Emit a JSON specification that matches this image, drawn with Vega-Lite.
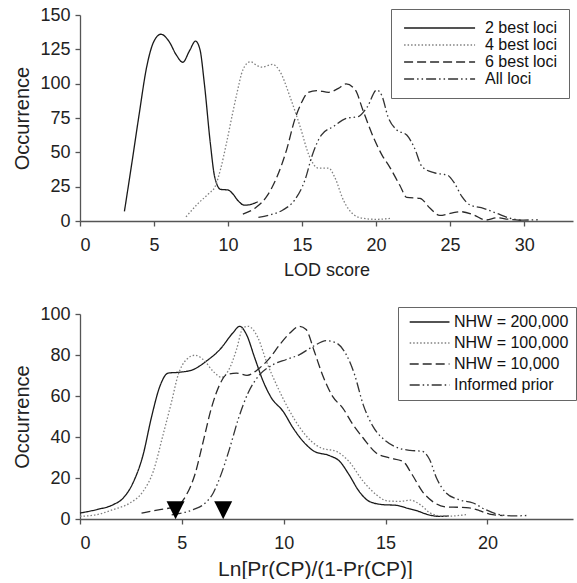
{
  "$schema": "https://vega.github.io/schema/vega-lite/v6.json",
  "background": "white",
  "padding": {"left": 12, "top": 6, "right": 0, "bottom": 0},
  "spacing": 26,
  "config": {
    "view": {"stroke": null},
    "font": "Liberation Sans",
    "axis": {
      "grid": false,
      "domainColor": "#555",
      "domainWidth": 1.3,
      "tickColor": "#555",
      "tickWidth": 1.3,
      "tickSize": 5,
      "labelFont": "Liberation Sans",
      "labelFontSize": 18,
      "labelColor": "#222",
      "labelPadding": 5,
      "titleFont": "Liberation Sans",
      "titleFontSize": 20,
      "titleFontWeight": "normal",
      "titleColor": "#222"
    },
    "axisX": {"labelPadding": 10, "titlePadding": 6},
    "axisY": {"titlePadding": 7},
    "legend": {
      "orient": "none",
      "symbolType": "M-1,0H11",
      "symbolStrokeWidth": 1.3,
      "labelFont": "Liberation Sans",
      "labelFontSize": 16,
      "labelColor": "#111",
      "strokeColor": "#666",
      "strokeWidth": 1
    }
  },
  "datasets": {
    "lod": [
      {"x": 3.0, "y": 7, "s": "2 best loci"}, {"x": 3.5, "y": 42, "s": "2 best loci"}, {"x": 4.0, "y": 78, "s": "2 best loci"},
      {"x": 4.5, "y": 112, "s": "2 best loci"}, {"x": 5.0, "y": 131, "s": "2 best loci"}, {"x": 5.47, "y": 136, "s": "2 best loci"},
      {"x": 6.0, "y": 131, "s": "2 best loci"}, {"x": 6.5, "y": 121, "s": "2 best loci"}, {"x": 6.94, "y": 115.6, "s": "2 best loci"},
      {"x": 7.4, "y": 124, "s": "2 best loci"}, {"x": 7.8, "y": 131, "s": "2 best loci"}, {"x": 8.1, "y": 125, "s": "2 best loci"},
      {"x": 8.4, "y": 100, "s": "2 best loci"}, {"x": 8.8, "y": 57, "s": "2 best loci"}, {"x": 9.1, "y": 32, "s": "2 best loci"},
      {"x": 9.5, "y": 23, "s": "2 best loci"}, {"x": 10.0, "y": 22.6, "s": "2 best loci"}, {"x": 10.3, "y": 20, "s": "2 best loci"},
      {"x": 10.7, "y": 14.5, "s": "2 best loci"}, {"x": 11.1, "y": 11.5, "s": "2 best loci"}, {"x": 11.5, "y": 12, "s": "2 best loci"},
      {"x": 12.0, "y": 14, "s": "2 best loci"},

      {"x": 7.16, "y": 3, "s": "4 best loci"}, {"x": 8.0, "y": 13, "s": "4 best loci"}, {"x": 8.7, "y": 20, "s": "4 best loci"},
      {"x": 9.12, "y": 25, "s": "4 best loci"}, {"x": 9.5, "y": 38, "s": "4 best loci"}, {"x": 9.9, "y": 57, "s": "4 best loci"},
      {"x": 10.3, "y": 78, "s": "4 best loci"}, {"x": 10.6, "y": 93, "s": "4 best loci"}, {"x": 11.0, "y": 110, "s": "4 best loci"},
      {"x": 11.5, "y": 116, "s": "4 best loci"}, {"x": 12.0, "y": 113, "s": "4 best loci"}, {"x": 12.3, "y": 112, "s": "4 best loci"},
      {"x": 13.0, "y": 114, "s": "4 best loci"}, {"x": 13.5, "y": 109, "s": "4 best loci"}, {"x": 14.2, "y": 90, "s": "4 best loci"},
      {"x": 14.86, "y": 69, "s": "4 best loci"}, {"x": 15.5, "y": 47, "s": "4 best loci"}, {"x": 16.1, "y": 38.5, "s": "4 best loci"},
      {"x": 16.8, "y": 38.5, "s": "4 best loci"}, {"x": 17.2, "y": 32, "s": "4 best loci"}, {"x": 17.8, "y": 15, "s": "4 best loci"},
      {"x": 18.5, "y": 4.5, "s": "4 best loci"}, {"x": 19.1, "y": 2, "s": "4 best loci"}, {"x": 20.0, "y": 1.2, "s": "4 best loci"},
      {"x": 21.0, "y": 2, "s": "4 best loci"},

      {"x": 11.0, "y": 5, "s": "6 best loci"}, {"x": 11.9, "y": 10, "s": "6 best loci"}, {"x": 12.6, "y": 17.7, "s": "6 best loci"},
      {"x": 13.3, "y": 32, "s": "6 best loci"}, {"x": 13.96, "y": 52, "s": "6 best loci"}, {"x": 14.5, "y": 73.6, "s": "6 best loci"},
      {"x": 15.0, "y": 87, "s": "6 best loci"}, {"x": 15.4, "y": 93.5, "s": "6 best loci"}, {"x": 16.0, "y": 95, "s": "6 best loci"},
      {"x": 16.8, "y": 93.7, "s": "6 best loci"}, {"x": 17.45, "y": 96.6, "s": "6 best loci"}, {"x": 17.97, "y": 99.8, "s": "6 best loci"},
      {"x": 18.6, "y": 95.4, "s": "6 best loci"}, {"x": 19.1, "y": 81, "s": "6 best loci"}, {"x": 19.8, "y": 61.4, "s": "6 best loci"},
      {"x": 20.4, "y": 48, "s": "6 best loci"}, {"x": 20.9, "y": 39.6, "s": "6 best loci"}, {"x": 21.6, "y": 26, "s": "6 best loci"},
      {"x": 22.07, "y": 17.2, "s": "6 best loci"}, {"x": 22.97, "y": 16.5, "s": "6 best loci"}, {"x": 23.65, "y": 9.2, "s": "6 best loci"},
      {"x": 24.3, "y": 4.1, "s": "6 best loci"}, {"x": 25.0, "y": 5.5, "s": "6 best loci"}, {"x": 25.7, "y": 6.8, "s": "6 best loci"},
      {"x": 26.6, "y": 4.4, "s": "6 best loci"}, {"x": 27.4, "y": 0.7, "s": "6 best loci"}, {"x": 28.2, "y": 2.4, "s": "6 best loci"},
      {"x": 28.9, "y": 1.3, "s": "6 best loci"}, {"x": 29.8, "y": 0.5, "s": "6 best loci"},

      {"x": 12.05, "y": 2.7, "s": "All loci"}, {"x": 12.8, "y": 4.4, "s": "All loci"}, {"x": 13.7, "y": 8, "s": "All loci"},
      {"x": 14.5, "y": 15.3, "s": "All loci"}, {"x": 15.2, "y": 30, "s": "All loci"}, {"x": 15.66, "y": 47, "s": "All loci"},
      {"x": 16.3, "y": 62.6, "s": "All loci"}, {"x": 17.1, "y": 68.7, "s": "All loci"}, {"x": 18.0, "y": 74.8, "s": "All loci"},
      {"x": 18.8, "y": 76, "s": "All loci"}, {"x": 19.4, "y": 83, "s": "All loci"}, {"x": 20.05, "y": 95.4, "s": "All loci"},
      {"x": 20.4, "y": 91, "s": "All loci"}, {"x": 20.8, "y": 76, "s": "All loci"}, {"x": 21.4, "y": 66.3, "s": "All loci"},
      {"x": 22.07, "y": 62.6, "s": "All loci"}, {"x": 22.6, "y": 53, "s": "All loci"}, {"x": 23.1, "y": 39.6, "s": "All loci"},
      {"x": 23.9, "y": 35.2, "s": "All loci"}, {"x": 24.5, "y": 34, "s": "All loci"}, {"x": 24.8, "y": 33.5, "s": "All loci"},
      {"x": 25.3, "y": 27.4, "s": "All loci"}, {"x": 25.8, "y": 17.7, "s": "All loci"}, {"x": 26.35, "y": 11.7, "s": "All loci"},
      {"x": 27.25, "y": 9.2, "s": "All loci"}, {"x": 28.15, "y": 5.6, "s": "All loci"}, {"x": 29.05, "y": 2, "s": "All loci"},
      {"x": 29.95, "y": 0.7, "s": "All loci"}, {"x": 31.1, "y": 1, "s": "All loci"}
    ],
    "odds": [
      {"x": 0, "y": 2.9, "s": "NHW = 200,000"}, {"x": 0.82, "y": 4.6, "s": "NHW = 200,000"}, {"x": 1.63, "y": 7, "s": "NHW = 200,000"},
      {"x": 2.12, "y": 10.2, "s": "NHW = 200,000"}, {"x": 2.6, "y": 17.6, "s": "NHW = 200,000"}, {"x": 3.1, "y": 31.4, "s": "NHW = 200,000"},
      {"x": 3.5, "y": 49.3, "s": "NHW = 200,000"}, {"x": 3.92, "y": 64.7, "s": "NHW = 200,000"}, {"x": 4.33, "y": 71.2, "s": "NHW = 200,000"},
      {"x": 4.9, "y": 71.6, "s": "NHW = 200,000"}, {"x": 5.56, "y": 72.9, "s": "NHW = 200,000"}, {"x": 6.2, "y": 77, "s": "NHW = 200,000"},
      {"x": 6.86, "y": 82.6, "s": "NHW = 200,000"}, {"x": 7.5, "y": 90.7, "s": "NHW = 200,000"}, {"x": 7.84, "y": 94, "s": "NHW = 200,000"},
      {"x": 8.17, "y": 90, "s": "NHW = 200,000"}, {"x": 8.58, "y": 78.5, "s": "NHW = 200,000"}, {"x": 8.99, "y": 67.2, "s": "NHW = 200,000"},
      {"x": 9.4, "y": 59, "s": "NHW = 200,000"}, {"x": 9.97, "y": 52.5, "s": "NHW = 200,000"}, {"x": 10.46, "y": 44.4, "s": "NHW = 200,000"},
      {"x": 10.95, "y": 37.9, "s": "NHW = 200,000"}, {"x": 11.5, "y": 33, "s": "NHW = 200,000"}, {"x": 12.25, "y": 30.9, "s": "NHW = 200,000"},
      {"x": 12.75, "y": 28.1, "s": "NHW = 200,000"}, {"x": 13.2, "y": 21.7, "s": "NHW = 200,000"}, {"x": 13.7, "y": 13.5, "s": "NHW = 200,000"},
      {"x": 14.2, "y": 8.6, "s": "NHW = 200,000"}, {"x": 14.87, "y": 7, "s": "NHW = 200,000"}, {"x": 15.5, "y": 6.7, "s": "NHW = 200,000"},
      {"x": 16.1, "y": 5.2, "s": "NHW = 200,000"}, {"x": 16.6, "y": 3.8, "s": "NHW = 200,000"}, {"x": 17.0, "y": 2.4, "s": "NHW = 200,000"},
      {"x": 17.6, "y": 1.3, "s": "NHW = 200,000"}, {"x": 18.1, "y": 1.5, "s": "NHW = 200,000"},

      {"x": 0, "y": 1.3, "s": "NHW = 100,000"}, {"x": 0.82, "y": 2.1, "s": "NHW = 100,000"}, {"x": 1.63, "y": 4.6, "s": "NHW = 100,000"},
      {"x": 2.45, "y": 7.8, "s": "NHW = 100,000"}, {"x": 3.1, "y": 13.5, "s": "NHW = 100,000"}, {"x": 3.6, "y": 23.3, "s": "NHW = 100,000"},
      {"x": 4.08, "y": 41.2, "s": "NHW = 100,000"}, {"x": 4.5, "y": 57.4, "s": "NHW = 100,000"}, {"x": 4.82, "y": 70.4, "s": "NHW = 100,000"},
      {"x": 5.23, "y": 77.8, "s": "NHW = 100,000"}, {"x": 5.64, "y": 79.9, "s": "NHW = 100,000"}, {"x": 6.05, "y": 77.8, "s": "NHW = 100,000"},
      {"x": 6.54, "y": 72, "s": "NHW = 100,000"}, {"x": 6.95, "y": 69.1, "s": "NHW = 100,000"}, {"x": 7.35, "y": 73.7, "s": "NHW = 100,000"},
      {"x": 7.68, "y": 82.6, "s": "NHW = 100,000"}, {"x": 8.0, "y": 93.2, "s": "NHW = 100,000"}, {"x": 8.25, "y": 94, "s": "NHW = 100,000"},
      {"x": 8.74, "y": 88.3, "s": "NHW = 100,000"}, {"x": 9.15, "y": 76.9, "s": "NHW = 100,000"}, {"x": 9.64, "y": 65.6, "s": "NHW = 100,000"},
      {"x": 10.3, "y": 52.5, "s": "NHW = 100,000"}, {"x": 10.8, "y": 44.4, "s": "NHW = 100,000"}, {"x": 11.36, "y": 37.9, "s": "NHW = 100,000"},
      {"x": 11.85, "y": 34.6, "s": "NHW = 100,000"}, {"x": 12.58, "y": 33, "s": "NHW = 100,000"}, {"x": 13.2, "y": 28.1, "s": "NHW = 100,000"},
      {"x": 13.9, "y": 18.4, "s": "NHW = 100,000"}, {"x": 14.54, "y": 11.9, "s": "NHW = 100,000"}, {"x": 15.1, "y": 8.8, "s": "NHW = 100,000"},
      {"x": 15.7, "y": 8.6, "s": "NHW = 100,000"}, {"x": 16.2, "y": 9.2, "s": "NHW = 100,000"}, {"x": 16.7, "y": 7, "s": "NHW = 100,000"},
      {"x": 17.2, "y": 2.9, "s": "NHW = 100,000"}, {"x": 17.9, "y": 1.3, "s": "NHW = 100,000"}, {"x": 18.95, "y": 2.1, "s": "NHW = 100,000"},

      {"x": 3.02, "y": 2.9, "s": "NHW = 10,000"}, {"x": 3.92, "y": 4.6, "s": "NHW = 10,000"}, {"x": 4.74, "y": 6.2, "s": "NHW = 10,000"},
      {"x": 5.23, "y": 11.9, "s": "NHW = 10,000"}, {"x": 5.64, "y": 21.7, "s": "NHW = 10,000"}, {"x": 6.05, "y": 37.9, "s": "NHW = 10,000"},
      {"x": 6.45, "y": 54.1, "s": "NHW = 10,000"}, {"x": 6.86, "y": 65.6, "s": "NHW = 10,000"}, {"x": 7.19, "y": 70.4, "s": "NHW = 10,000"},
      {"x": 7.68, "y": 71.2, "s": "NHW = 10,000"}, {"x": 8.2, "y": 70.1, "s": "NHW = 10,000"}, {"x": 8.82, "y": 73.7, "s": "NHW = 10,000"},
      {"x": 9.31, "y": 78.5, "s": "NHW = 10,000"}, {"x": 9.8, "y": 85, "s": "NHW = 10,000"}, {"x": 10.3, "y": 90.7, "s": "NHW = 10,000"},
      {"x": 10.78, "y": 94, "s": "NHW = 10,000"}, {"x": 11.1, "y": 92.4, "s": "NHW = 10,000"}, {"x": 11.5, "y": 81.8, "s": "NHW = 10,000"},
      {"x": 11.9, "y": 70.4, "s": "NHW = 10,000"}, {"x": 12.4, "y": 59.8, "s": "NHW = 10,000"}, {"x": 12.9, "y": 54.1, "s": "NHW = 10,000"},
      {"x": 13.4, "y": 46, "s": "NHW = 10,000"}, {"x": 13.9, "y": 39.5, "s": "NHW = 10,000"}, {"x": 14.54, "y": 32.2, "s": "NHW = 10,000"},
      {"x": 15.2, "y": 29.8, "s": "NHW = 10,000"}, {"x": 15.85, "y": 28.1, "s": "NHW = 10,000"}, {"x": 16.3, "y": 21.7, "s": "NHW = 10,000"},
      {"x": 16.8, "y": 13.5, "s": "NHW = 10,000"}, {"x": 17.3, "y": 8.6, "s": "NHW = 10,000"}, {"x": 17.97, "y": 5.9, "s": "NHW = 10,000"},
      {"x": 18.6, "y": 5.7, "s": "NHW = 10,000"}, {"x": 19.1, "y": 5.4, "s": "NHW = 10,000"}, {"x": 19.6, "y": 4.1, "s": "NHW = 10,000"},
      {"x": 20.1, "y": 2.4, "s": "NHW = 10,000"}, {"x": 20.75, "y": 1.7, "s": "NHW = 10,000"},

      {"x": 4.5, "y": 2, "s": "Informed prior"}, {"x": 5.56, "y": 4.6, "s": "Informed prior"}, {"x": 6.05, "y": 7, "s": "Informed prior"},
      {"x": 6.54, "y": 12.7, "s": "Informed prior"}, {"x": 6.86, "y": 20, "s": "Informed prior"}, {"x": 7.35, "y": 34.6, "s": "Informed prior"},
      {"x": 7.76, "y": 48.5, "s": "Informed prior"}, {"x": 8.25, "y": 61.5, "s": "Informed prior"}, {"x": 8.82, "y": 70.4, "s": "Informed prior"},
      {"x": 9.48, "y": 75.3, "s": "Informed prior"}, {"x": 10.13, "y": 77.8, "s": "Informed prior"}, {"x": 10.78, "y": 80.2, "s": "Informed prior"},
      {"x": 11.44, "y": 84.2, "s": "Informed prior"}, {"x": 12.1, "y": 87, "s": "Informed prior"}, {"x": 12.58, "y": 85.9, "s": "Informed prior"},
      {"x": 13.07, "y": 80.2, "s": "Informed prior"}, {"x": 13.48, "y": 70.4, "s": "Informed prior"}, {"x": 13.9, "y": 55.8, "s": "Informed prior"},
      {"x": 14.38, "y": 45.2, "s": "Informed prior"}, {"x": 15.03, "y": 37.9, "s": "Informed prior"}, {"x": 15.7, "y": 34.4, "s": "Informed prior"},
      {"x": 16.2, "y": 33.5, "s": "Informed prior"}, {"x": 16.8, "y": 33, "s": "Informed prior"}, {"x": 17.16, "y": 29, "s": "Informed prior"},
      {"x": 17.5, "y": 20, "s": "Informed prior"}, {"x": 17.97, "y": 12.7, "s": "Informed prior"}, {"x": 18.6, "y": 9.4, "s": "Informed prior"},
      {"x": 19.3, "y": 7.8, "s": "Informed prior"}, {"x": 19.9, "y": 4.6, "s": "Informed prior"}, {"x": 20.6, "y": 2.1, "s": "Informed prior"},
      {"x": 21.3, "y": 1.5, "s": "Informed prior"}, {"x": 22.05, "y": 1.8, "s": "Informed prior"}
    ],
    "markers": [
      {"x": 4.69, "y": 4.3},
      {"x": 7.03, "y": 4.3}
    ]
  },
  "vconcat": [
    {
      "width": 493,
      "height": 206,
      "data": {"name": "lod"},
      "mark": {"type": "line", "interpolate": "monotone", "strokeWidth": 1.3},
      "encoding": {
        "x": {
          "field": "x", "type": "quantitative", "title": "LOD score",
          "scale": {"domain": [0, 33.3], "nice": false, "zero": false},
          "axis": {"values": [0, 5, 10, 15, 20, 25, 30], "titleFontSize": 18, "titlePadding": 7}
        },
        "y": {
          "field": "y", "type": "quantitative", "title": "Occurrence",
          "scale": {"domain": [0, 150], "nice": false},
          "axis": {"values": [0, 25, 50, 75, 100, 125, 150]}
        },
        "color": {
          "field": "s", "type": "nominal", "title": null,
          "scale": {
            "domain": ["2 best loci", "4 best loci", "6 best loci", "All loci"],
            "range": ["#1a1a1a", "#808080", "#2a2a2a", "#333333"]
          },
          "legend": {
            "legendX": 311, "legendY": -6, "padding": 11,
            "symbolSize": 140, "labelOffset": 67, "rowPadding": 1
          }
        },
        "strokeDash": {
          "field": "s", "type": "nominal", "title": null,
          "scale": {
            "domain": ["2 best loci", "4 best loci", "6 best loci", "All loci"],
            "range": [[1, 0], [1.5, 2], [9, 4], [10, 3, 1.5, 3, 1.5, 3]]
          },
          "legend": {
            "legendX": 311, "legendY": -6, "padding": 11,
            "symbolSize": 140, "labelOffset": 67, "rowPadding": 1
          }
        }
      }
    },
    {
      "width": 493,
      "height": 205,
      "layer": [
        {
          "data": {"name": "odds"},
          "mark": {"type": "line", "interpolate": "monotone", "strokeWidth": 1.3},
          "encoding": {
            "x": {
              "field": "x", "type": "quantitative", "title": "Ln[Pr(CP)/(1-Pr(CP)]",
              "scale": {"domain": [0, 24.2], "nice": false, "zero": false},
              "axis": {"values": [0, 5, 10, 15, 20], "titleFontSize": 21, "titleX": 235}
            },
            "y": {
              "field": "y", "type": "quantitative", "title": "Occurrence",
              "scale": {"domain": [0, 100], "nice": false},
              "axis": {"values": [0, 20, 40, 60, 80, 100]}
            },
            "color": {
              "field": "s", "type": "nominal", "title": null,
              "scale": {
                "domain": ["NHW = 200,000", "NHW = 100,000", "NHW = 10,000", "Informed prior"],
                "range": ["#1a1a1a", "#808080", "#2a2a2a", "#333333"]
              },
              "legend": {
                "legendX": 318, "legendY": -7, "padding": 7,
                "symbolSize": 44, "labelOffset": 33, "rowPadding": 5
              }
            },
            "strokeDash": {
              "field": "s", "type": "nominal", "title": null,
              "scale": {
                "domain": ["NHW = 200,000", "NHW = 100,000", "NHW = 10,000", "Informed prior"],
                "range": [[1, 0], [1.5, 2], [9, 4], [10, 3, 1.5, 3, 1.5, 3]]
              },
              "legend": {
                "legendX": 318, "legendY": -7, "padding": 7,
                "symbolSize": 44, "labelOffset": 33, "rowPadding": 5
              }
            }
          }
        },
        {
          "data": {"name": "markers"},
          "mark": {"type": "point", "shape": "M-1,-1L1,-1L0,1Z", "filled": true, "color": "black", "opacity": 1, "size": 324},
          "encoding": {
            "x": {"field": "x", "type": "quantitative"},
            "y": {"field": "y", "type": "quantitative"}
          }
        }
      ],
      "resolve": {"scale": {"color": "independent", "strokeDash": "independent"}}
    }
  ],
  "resolve": {"scale": {"color": "independent", "strokeDash": "independent", "x": "independent", "y": "independent"}}
}
